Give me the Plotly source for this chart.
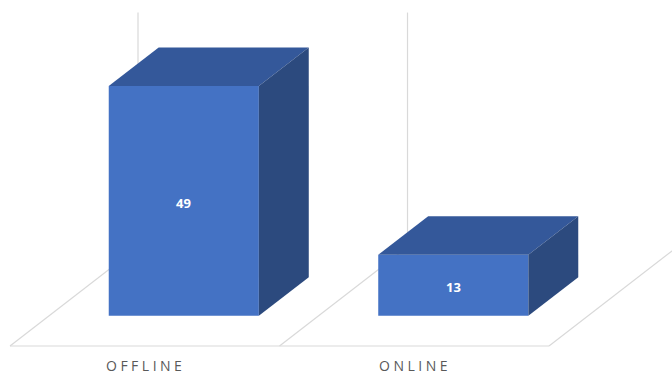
import plotly.graph_objects as go

# Chart data
categories = ["OFFLINE", "ONLINE"]
values = [49, 13]
axis_max = 50

# Oblique projection used to fake the 3D column look:
# a point (category position c, value v, depth d in 0..1) maps to
# (c + d * DEPTH_X, v + d * DEPTH_Y) in the 2D axes.
DEPTH_X = 0.475
DEPTH_Y = 21.1
BAR_WIDTH = 0.557
BAR_DEPTH = 0.39
BAR_D0 = (1 - BAR_DEPTH) / 2

FRONT = "#4472C4"
TOP = "#34589A"
SIDE = "#2C4A7E"
GRID = "#D9D9D9"
TEXT = "#595959"


def proj(c, v, d):
    return c + d * DEPTH_X, v + d * DEPTH_Y


def poly(points, color):
    xs, ys = zip(*[proj(*p) for p in points])
    return go.Scatter(
        x=list(xs) + [xs[0]], y=list(ys) + [ys[0]],
        mode="lines", fill="toself", fillcolor=color,
        line=dict(width=0, color=color), hoverinfo="skip", showlegend=False,
    )


def seg(p, q):
    (x0, y0), (x1, y1) = proj(*p), proj(*q)
    return go.Scatter(
        x=[x0, x1], y=[y0, y1], mode="lines",
        line=dict(color=GRID, width=1.2), hoverinfo="skip", showlegend=False,
    )


fig = go.Figure()
n = len(categories)

# Floor front edge, floor depth lines and back-wall verticals at category edges
fig.add_trace(seg((0, 0, 0), (n, 0, 0)))
for e in range(n + 1):
    fig.add_trace(seg((e, 0, 0), (e, 0, 1)))
    fig.add_trace(seg((e, 0, 1), (e, axis_max, 1)))

# Columns: front, top and right side faces
d0, d1 = BAR_D0, BAR_D0 + BAR_DEPTH
for i, v in enumerate(values):
    c0 = i + 0.5 - BAR_WIDTH / 2
    c1 = i + 0.5 + BAR_WIDTH / 2
    fig.add_trace(poly([(c0, 0, d0), (c1, 0, d0), (c1, v, d0), (c0, v, d0)], FRONT))
    fig.add_trace(poly([(c0, v, d0), (c1, v, d0), (c1, v, d1), (c0, v, d1)], TOP))
    fig.add_trace(poly([(c1, 0, d0), (c1, 0, d1), (c1, v, d1), (c1, v, d0)], SIDE))

    lx, ly = proj(i + 0.5, v / 2, d0)
    fig.add_annotation(
        x=lx, y=ly, yshift=-2, text=f"<b>{v}</b>", showarrow=False,
        font=dict(family="Open Sans", size=13, color="white"),
        xanchor="center", yanchor="middle",
    )

    fig.add_annotation(
        x=i + 0.5, y=-4.2, xshift=1,
        text=f'<span style="letter-spacing:3.5px">{categories[i]}</span>',
        showarrow=False, font=dict(family="Open Sans", size=14, color=TEXT),
        xanchor="center", yanchor="middle",
    )

# Axis ranges chosen so one category spans ~270 px and one value unit ~4.7 px
px_per_cat = 269.5
px_per_val = 4.69
W, H = 672, 376
x_lo = -10 / px_per_cat
y_lo = -30 / px_per_val

fig.update_layout(
    width=W, height=H, autosize=False,
    margin=dict(l=0, r=0, t=0, b=0),
    paper_bgcolor="white", plot_bgcolor="white",
    xaxis=dict(range=[x_lo, x_lo + W / px_per_cat], visible=False, fixedrange=True),
    yaxis=dict(range=[y_lo, y_lo + H / px_per_val], visible=False, fixedrange=True),
    showlegend=False,
)

fig.write_html("out.html", config={"displayModeBar": False})
